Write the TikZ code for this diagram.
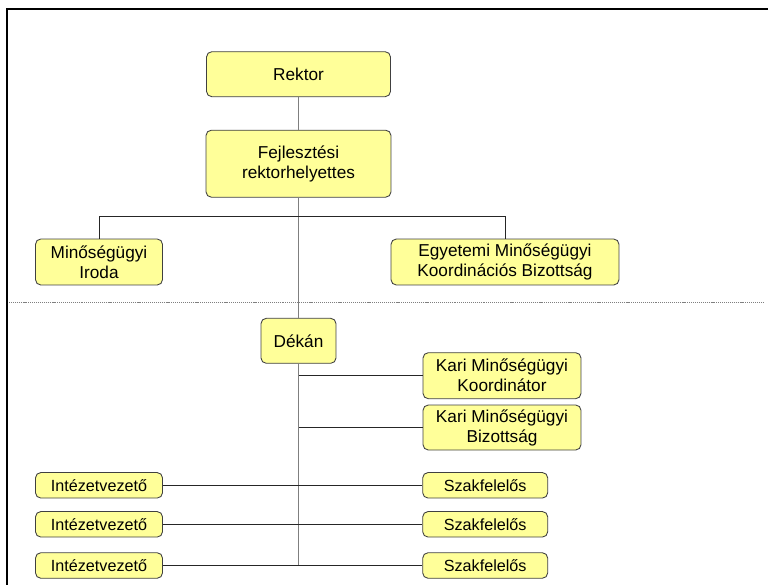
\documentclass[tikz,border=0pt]{standalone}
\usepackage{fontspec}
\setmainfont{Liberation Sans}
\usetikzlibrary{positioning,calc}

\definecolor{boxfill}{HTML}{FFFF99}
\definecolor{boxline}{HTML}{404040}
\definecolor{trunkgray}{HTML}{7F7F7F}

\begin{document}
\begin{tikzpicture}[x=0.02cm, y=-0.02cm,
  box/.style={draw=boxline, fill=boxfill, line width=0.5pt, rounded corners=3pt, align=center, inner sep=1pt, font=\fontsize{9.8}{11.4}\selectfont},
  smallbox/.style={box, font=\fontsize{9.2}{10}\selectfont},
  trunk/.style={draw=trunkgray, line width=0.8pt},
  tie/.style={draw=black!85, line width=0.55pt}]
\useasboundingbox (0,0) rectangle (768,585);

% keret
\draw[line width=1.2pt] (7,585) -- (7,9) -- (768,9);

% rektor
\node[box, minimum width=3.68cm, minimum height=0.9cm] (rektor) at (298.5,74.2) {Rektor};

% rektorhelyettes
\node[box, minimum width=3.7cm, minimum height=1.34cm] (fejl) at (298.5,163.7) {Fejlesztési\\rektorhelyettes};

% iroda es bizottsag
\node[box, minimum width=2.54cm, minimum height=0.92cm] (iroda) at (99,262) {Minőségügyi\\Iroda};
\node[box, minimum width=4.56cm, minimum height=0.92cm] (egyb) at (505,262) {Egyetemi Minőségügyi\\Koordinációs Bizottság};

% elvalaszto
\draw[trunkgray, line width=0.5pt, dash pattern=on 0.6pt off 0.5pt] (9,302) -- (763,302);

% dekan
\node[box, minimum width=1.5cm, minimum height=0.9cm] (dekan) at (298.5,340.8) {Dékán};

% kari szint
\node[box, minimum width=3.16cm, minimum height=0.92cm] (karik) at (502,375.7) {Kari Minőségügyi\\Koordinátor};
\node[box, minimum width=3.16cm, minimum height=0.9cm] (karib) at (502,427.5) {Kari Minőségügyi\\Bizottság};

% intezetek es szakok
\node[smallbox, minimum width=2.54cm, minimum height=0.51cm] (int1) at (99,485.3) {Intézetvezető};
\node[smallbox, minimum width=2.54cm, minimum height=0.51cm] (int2) at (99,524.3) {Intézetvezető};
\node[smallbox, minimum width=2.54cm, minimum height=0.51cm] (int3) at (99,565.5) {Intézetvezető};
\node[smallbox, minimum width=2.5cm, minimum height=0.51cm] (szak1) at (485.2,485.3) {Szakfelelős};
\node[smallbox, minimum width=2.5cm, minimum height=0.51cm] (szak2) at (485.2,524.3) {Szakfelelős};
\node[smallbox, minimum width=2.5cm, minimum height=0.51cm] (szak3) at (485.2,565.5) {Szakfelelős};

% vonalak
\draw[trunk] (rektor) -- (fejl);
\draw[trunk] (fejl) -- (dekan);
\draw[trunk] (dekan.south) -- (dekan.south |- int3.east);
\draw[tie] (iroda.north) -- ++(0,-22) -| (egyb.north);
\draw[tie] (karik.west) -- (karik.west -| dekan.south);
\draw[tie] (karib.west) -- (karib.west -| dekan.south);
\draw[tie] (int1) -- (szak1);
\draw[tie] (int2) -- (szak2);
\draw[tie] (int3) -- (szak3);
\end{tikzpicture}
\end{document}
